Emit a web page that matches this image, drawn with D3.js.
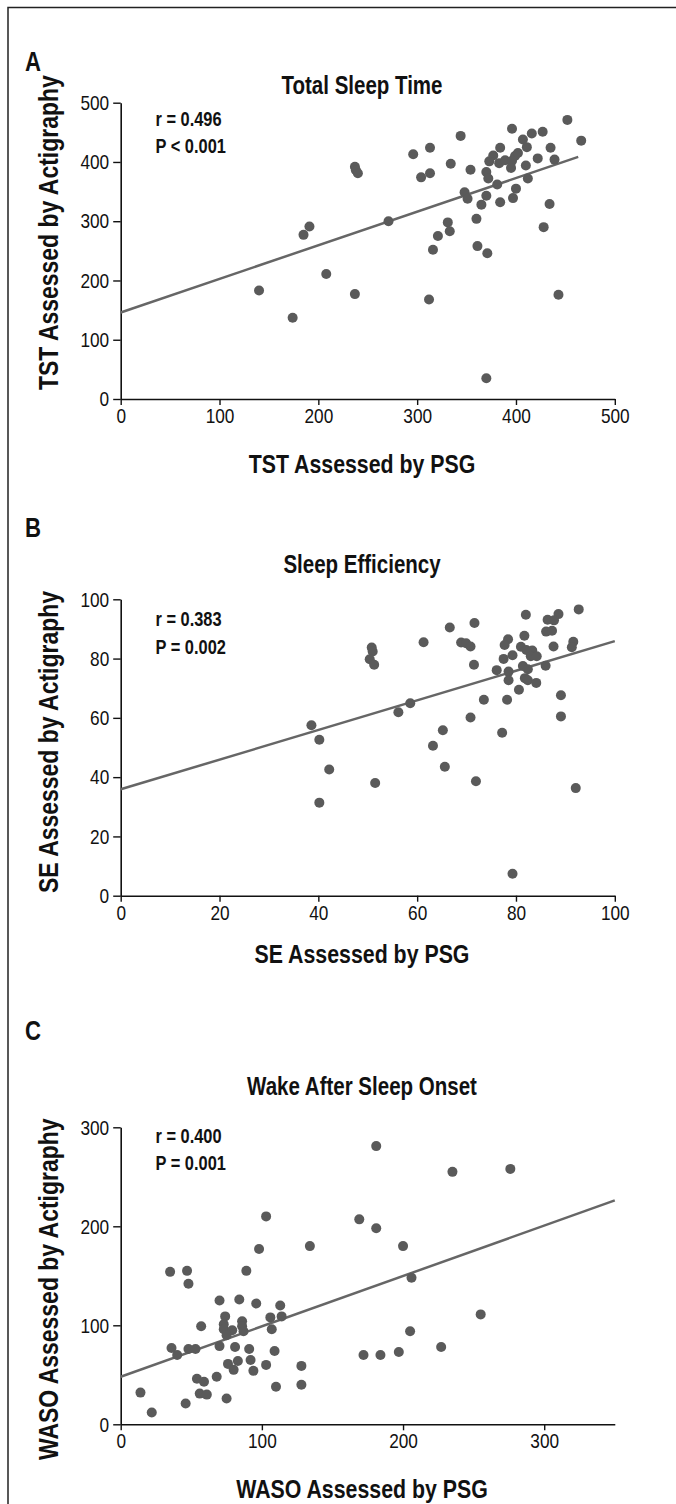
<!DOCTYPE html>
<html>
<head>
<meta charset="utf-8">
<script src="https://cdn.jsdelivr.net/npm/d3@7"></script>
<style>
  body { margin: 0; background: #fff; }
  svg { display: block; }
  text { font-family: "Liberation Sans", Arial, sans-serif; fill: #111; }
</style>
</head>
<body>
<svg width="676" height="1504"></svg>
<script>
// Data

// A: total sleep time (min)
const tstPsg = [452, 466, 396, 416, 427, 407, 411, 435, 384, 377, 373, 383, 389, 396, 399, 402,
  395, 410, 422, 439, 412, 381, 400, 370, 372, 354, 344, 334, 313, 296, 313, 304,
  348, 351, 370, 365, 384, 397, 434, 360, 331, 333, 321, 316, 361, 371, 428, 271,
  237, 238, 240, 191, 185, 208, 140, 237, 312, 443, 174, 370];
const tstAct = [471, 436, 456, 448, 451, 438, 425, 424, 424, 411, 401, 398, 403, 402, 410, 415,
  390, 394, 406, 404, 372, 362, 355, 383, 372, 387, 444, 397, 424, 413, 381, 374,
  349, 338, 343, 328, 332, 339, 329, 304, 298, 283, 275, 252, 258, 246, 290, 300,
  392, 386, 381, 291, 277, 211, 183, 177, 168, 176, 137, 35];

// B: sleep efficiency (%)
const sePsg = [92.7, 88.6, 82.0, 86.4, 87.7, 71.6, 66.6, 86.1, 87.3, 81.7, 78.4, 77.7, 61.3, 68.9, 69.9, 70.8,
  91.6, 91.3, 87.6, 81.0, 82.1, 83.3, 83.0, 84.2, 79.3, 77.5, 50.8, 51.0, 50.4, 51.3, 71.5, 76.1,
  78.5, 81.4, 82.4, 86.0, 78.5, 81.8, 82.4, 84.1, 80.6, 73.5, 78.2, 89.1, 89.1, 58.6, 56.2, 70.8,
  38.6, 40.2, 65.2, 77.2, 63.2, 65.6, 42.2, 51.5, 71.9, 92.1, 40.2, 79.3];
const seAct = [96.6, 95.0, 94.8, 93.1, 92.9, 92.0, 90.5, 89.1, 89.4, 87.7, 86.5, 84.6, 85.5, 85.4, 85.2, 84.1,
  85.7, 83.8, 84.1, 84.0, 82.9, 82.7, 80.8, 80.8, 81.1, 79.9, 83.7, 82.4, 79.8, 77.9, 77.9, 76.1,
  75.6, 77.5, 76.4, 77.6, 72.7, 73.4, 72.7, 71.8, 69.5, 66.1, 66.1, 67.6, 60.5, 64.9, 61.9, 60.1,
  57.5, 52.6, 55.8, 55.0, 50.6, 43.5, 42.6, 38.0, 38.6, 36.3, 31.4, 7.4];

// C: wake after sleep onset (min)
const wasoPsg = [181, 235, 276, 103, 169, 181, 98, 134, 200, 35, 47, 48, 89, 206, 70, 84,
  96, 113, 74, 106, 114, 57, 73, 73, 86, 86, 79, 75, 87, 107, 255, 205,
  36, 40, 48, 53, 70, 81, 91, 109, 128, 172, 184, 197, 227, 76, 83, 92,
  103, 80, 94, 54, 59, 68, 110, 128, 14, 56, 61, 75, 46, 22];
const wasoAct = [281, 255, 258, 210, 207, 198, 177, 180, 180, 154, 155, 142, 155, 148, 125, 126,
  122, 120, 109, 108, 109, 99, 101, 96, 104, 99, 95, 90, 94, 96, 111, 94,
  77, 70, 76, 76, 79, 78, 76, 74, 59, 70, 70, 73, 78, 61, 64, 65,
  60, 55, 54, 46, 43, 48, 38, 40, 32, 31, 30, 26, 21, 12];

const panels = [
  { letter: "A", title: "Total Sleep Time", xs: tstPsg, ys: tstAct,
    xDomain: [0, 500], xTicks: [0, 100, 200, 300, 400, 500],
    yDomain: [0, 500], yTicks: [0, 100, 200, 300, 400, 500],
    fit: [146, 0.567, 463], stats: ["r = 0.496", "P < 0.001"],
    xLabel: "TST Assessed by PSG", yLabel: "TST Assessed by Actigraphy" },
  { letter: "B", title: "Sleep Efficiency", xs: sePsg, ys: seAct,
    xDomain: [0, 100], xTicks: [0, 20, 40, 60, 80, 100],
    yDomain: [0, 100], yTicks: [0, 20, 40, 60, 80, 100],
    fit: [35.9, 0.50, 100], stats: ["r = 0.383", "P = 0.002"],
    xLabel: "SE Assessed by PSG", yLabel: "SE Assessed by Actigraphy" },
  { letter: "C", title: "Wake After Sleep Onset", xs: wasoPsg, ys: wasoAct,
    xDomain: [0, 350], xTicks: [0, 100, 200, 300],
    yDomain: [0, 300], yTicks: [0, 100, 200, 300],
    fit: [48, 0.509, 350], stats: ["r = 0.400", "P = 0.001"],
    xLabel: "WASO Assessed by PSG", yLabel: "WASO Assessed by Actigraphy" }
];

// Layout for each panel (pixel positions)
const layout = [
  { top: 102.7, bottom: 399, letterY: 71, titleY: 94, statsY: 125.5, xLabelY: 473, yLabelStart: 390 },
  { top: 599.3, bottom: 895.7, letterY: 537, titleY: 573, statsY: 626, xLabelY: 963, yLabelStart: 893 },
  { top: 1127.3, bottom: 1424.3, letterY: 1040, titleY: 1095, statsY: 1142.7, xLabelY: 1498, yLabelStart: 1460 }
];
const left = 120.7, right = 614.8;

const svg = d3.select("svg");

// squeeze text horizontally to get a narrow face (no Arial Narrow installed)
function narrow(sel) {
  sel.each(function() {
    const w = this.getComputedTextLength();
    d3.select(this)
      .attr("textLength", w * 0.82)
      .attr("lengthAdjust", "spacingAndGlyphs");
  });
}

// outer frame (only top and left edges fall inside the picture)
svg.append("path")
  .attr("d", "M8,1504 V7.5 H676")
  .attr("fill", "none")
  .attr("stroke", "#222")
  .attr("stroke-width", 1.5);

panels.forEach((p, i) => {
  const L = layout[i];
  const g = svg.append("g");

  const x = d3.scaleLinear().domain(p.xDomain).range([left, right]);
  const y = d3.scaleLinear().domain(p.yDomain).range([L.bottom, L.top]);

  // axes
  const xAxis = g.append("g")
    .attr("transform", `translate(0,${L.bottom})`)
    .call(d3.axisBottom(x).tickValues(p.xTicks).tickSize(6).tickPadding(3).tickSizeOuter(0));
  const yAxis = g.append("g")
    .attr("transform", `translate(${left},0)`)
    .call(d3.axisLeft(y).tickValues(p.yTicks).tickSize(7.5).tickPadding(4).tickSizeOuter(0));

  [xAxis, yAxis].forEach(a => {
    a.select(".domain").attr("stroke", "#111").attr("stroke-width", 1.6);
    a.selectAll(".tick line").attr("stroke", "#111").attr("stroke-width", 1.4);
    a.selectAll(".tick text")
      .attr("font-family", null)
      .attr("font-size", 21)
      .attr("fill", "#111")
      .call(narrow);
  });

  // regression line
  const [b0, b1, xEnd] = p.fit;
  g.append("line")
    .attr("x1", x(0)).attr("y1", y(b0))
    .attr("x2", x(xEnd)).attr("y2", y(b0 + b1 * xEnd))
    .attr("stroke", "#666")
    .attr("stroke-width", 2.5);

  // points
  g.selectAll("circle")
    .data(p.xs.map((v, k) => [v, p.ys[k]]))
    .enter().append("circle")
    .attr("cx", d => x(d[0]))
    .attr("cy", d => y(d[1]))
    .attr("r", 5)
    .attr("fill", "#5a5a5a");

  // texts
  g.append("text")
    .attr("x", 25).attr("y", L.letterY)
    .attr("font-size", 27).attr("font-weight", "bold")
    .text(p.letter)
    .call(narrow);

  g.append("text")
    .attr("x", 362).attr("y", L.titleY)
    .attr("text-anchor", "middle")
    .attr("font-size", 25).attr("font-weight", "bold")
    .text(p.title)
    .call(narrow);

  p.stats.forEach((s, k) => {
    g.append("text")
      .attr("x", 155.5).attr("y", L.statsY + k * 27.5)
      .attr("font-size", 20).attr("font-weight", "bold")
      .text(s)
      .call(narrow);
  });

  g.append("text")
    .attr("x", 362).attr("y", L.xLabelY)
    .attr("text-anchor", "middle")
    .attr("font-size", 26).attr("font-weight", "bold")
    .text(p.xLabel)
    .call(narrow);

  g.append("text")
    .attr("transform", `translate(58,${L.yLabelStart}) rotate(-90)`)
    .attr("font-size", 28).attr("font-weight", "bold")
    .text(p.yLabel)
    .call(narrow);
});
</script>
</body>
</html>
